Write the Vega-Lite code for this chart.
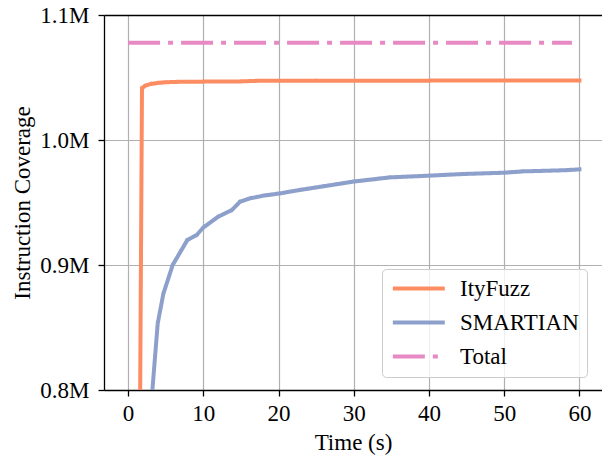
{
  "$schema": "https://vega.github.io/schema/vega-lite/v6.json",
  "autosize": {"type": "none"},
  "width": 498,
  "height": 375,
  "padding": {"left": 104, "top": 15, "right": 0, "bottom": 65},
  "background": "white",
  "config": {
    "view": {"stroke": null},
    "font": "Liberation Serif",
    "axis": {
      "labelFont": "Liberation Serif",
      "titleFont": "Liberation Serif",
      "labelFontSize": 23,
      "titleFontSize": 23,
      "titleFontWeight": "normal",
      "labelColor": "black",
      "titleColor": "black",
      "domainColor": "black",
      "domainWidth": 1.3,
      "tickColor": "black",
      "tickWidth": 1.3,
      "tickSize": 6,
      "gridColor": "#b0b0b0",
      "gridWidth": 1.2,
      "gridOpacity": 1
    },
    "legend": {
      "labelFont": "Liberation Serif",
      "labelFontSize": 23,
      "labelColor": "black"
    }
  },
  "resolve": {"axis": {"x": "independent"}},
  "data": {
    "values": [
      {"series": "ItyFuzz", "t": 1.6, "v": 790000},
      {"series": "ItyFuzz", "t": 1.85, "v": 1041500},
      {"series": "ItyFuzz", "t": 2.3, "v": 1043500},
      {"series": "ItyFuzz", "t": 3, "v": 1044800},
      {"series": "ItyFuzz", "t": 4, "v": 1045700},
      {"series": "ItyFuzz", "t": 5, "v": 1046200},
      {"series": "ItyFuzz", "t": 7, "v": 1046600},
      {"series": "ItyFuzz", "t": 10, "v": 1046700},
      {"series": "ItyFuzz", "t": 15, "v": 1046900},
      {"series": "ItyFuzz", "t": 17, "v": 1047300},
      {"series": "ItyFuzz", "t": 25, "v": 1047500},
      {"series": "ItyFuzz", "t": 40, "v": 1047500},
      {"series": "ItyFuzz", "t": 60, "v": 1047600},
      {"series": "SMARTIAN", "t": 3.1, "v": 790000},
      {"series": "SMARTIAN", "t": 3.94, "v": 853300},
      {"series": "SMARTIAN", "t": 4.69, "v": 877000},
      {"series": "SMARTIAN", "t": 5.93, "v": 900000},
      {"series": "SMARTIAN", "t": 7.88, "v": 920000},
      {"series": "SMARTIAN", "t": 9.12, "v": 924000},
      {"series": "SMARTIAN", "t": 10.0, "v": 930000},
      {"series": "SMARTIAN", "t": 12.0, "v": 938700},
      {"series": "SMARTIAN", "t": 13.8, "v": 944000},
      {"series": "SMARTIAN", "t": 14.9, "v": 950700},
      {"series": "SMARTIAN", "t": 16.2, "v": 953300},
      {"series": "SMARTIAN", "t": 18.0, "v": 955500},
      {"series": "SMARTIAN", "t": 20.2, "v": 957300},
      {"series": "SMARTIAN", "t": 21.5, "v": 958700},
      {"series": "SMARTIAN", "t": 22.8, "v": 960000},
      {"series": "SMARTIAN", "t": 29.9, "v": 966700},
      {"series": "SMARTIAN", "t": 34.8, "v": 970100},
      {"series": "SMARTIAN", "t": 40.1, "v": 971500},
      {"series": "SMARTIAN", "t": 44.5, "v": 972800},
      {"series": "SMARTIAN", "t": 49.8, "v": 973800},
      {"series": "SMARTIAN", "t": 52.5, "v": 974900},
      {"series": "SMARTIAN", "t": 58, "v": 975800},
      {"series": "SMARTIAN", "t": 60, "v": 976500},
      {"series": "Total", "t": 0, "v": 1077800},
      {"series": "Total", "t": 59, "v": 1077800}
    ]
  },
  "encoding": {
    "x": {
      "field": "t", "type": "quantitative",
      "scale": {"domain": [-3.2, 63], "nice": false, "zero": false},
      "axis": {
        "values": [0, 10, 20, 30, 40, 50, 60],
        "title": "Time (s)",
        "labelFontSize": 23, "titleFontSize": 23,
        "labelPadding": 6,
        "titleX": 249, "titleY": 52, "titleAlign": "center", "titleBaseline": "middle"
      }
    },
    "y": {
      "field": "v", "type": "quantitative",
      "scale": {"domain": [800000, 1100000], "nice": false, "zero": false},
      "axis": {
        "values": [800000, 900000, 1000000, 1100000],
        "labelExpr": "format(datum.value / 1000000, '.1f') + 'M'",
        "title": "Instruction Coverage",
        "labelFontSize": 23, "titleFontSize": 23,
        "labelPadding": 9,
        "titleX": -82, "titleY": 187.5, "titleAngle": -90, "titleAlign": "center", "titleBaseline": "middle"
      }
    },
    "color": {
      "field": "series", "type": "nominal",
      "scale": {"domain": ["ItyFuzz", "SMARTIAN", "Total"], "range": ["#fc8d62", "#8da0cb", "#e78ac3"]},
      "legend": {
        "title": null,
        "orient": "none",
        "legendX": 278,
        "legendY": 254,
        "padding": 8,
        "symbolType": "M-1,0H5",
        "symbolSize": 300,
        "symbolStrokeWidth": 4,
        "labelOffset": 47,
        "labelFontSize": 23,
        "labelFont": "Liberation Serif",
        "rowPadding": 10,
        "strokeColor": "#cccccc",
        "fillColor": "rgba(255,255,255,0.8)",
        "cornerRadius": 4
      }
    },
    "strokeDash": {
      "field": "series", "type": "nominal",
      "scale": {"domain": ["ItyFuzz", "SMARTIAN", "Total"], "range": [[1, 0], [1, 0], [32, 8, 5, 8]]},
      "legend": null
    }
  },
  "layer": [
    {
      "transform": [{"filter": "datum.series !== 'Total'"}],
      "mark": {"type": "line", "strokeWidth": 4, "clip": true, "strokeCap": "square", "strokeJoin": "round"}
    },
    {
      "transform": [{"filter": "datum.series === 'Total'"}],
      "mark": {"type": "line", "strokeWidth": 4, "clip": true, "strokeCap": "butt"},
      "encoding": {
        "x": {
          "field": "t", "type": "quantitative",
          "axis": {"orient": "top", "labels": false, "ticks": false, "grid": false, "title": null, "domain": true, "domainColor": "black", "domainWidth": 1.3}
        }
      }
    }
  ]
}
